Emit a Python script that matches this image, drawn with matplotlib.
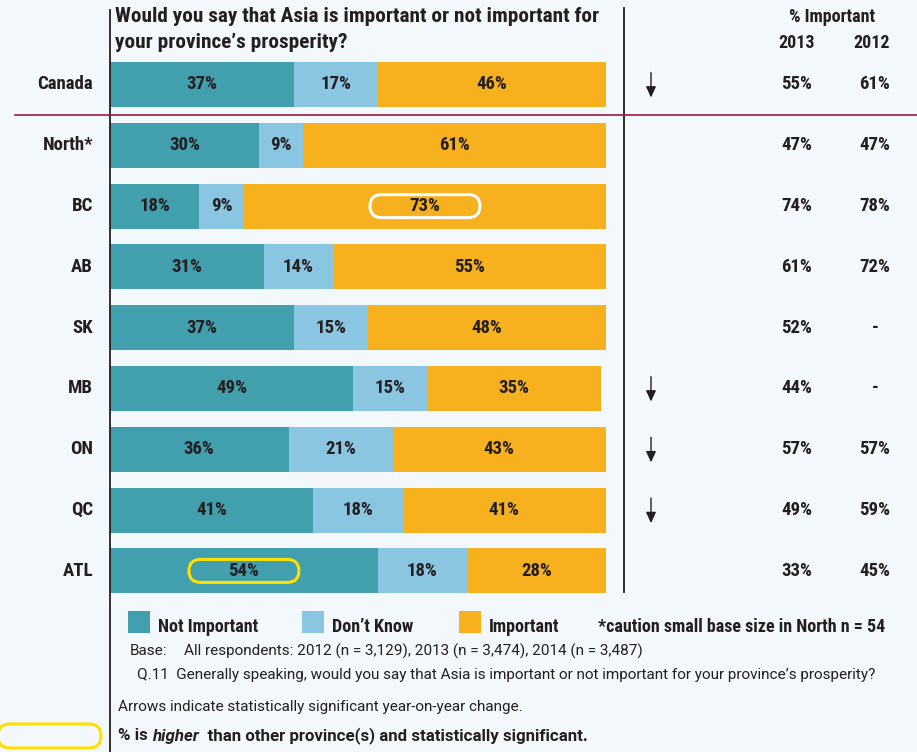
import matplotlib
matplotlib.use("Agg")
import matplotlib.pyplot as plt
from matplotlib.patches import FancyBboxPatch, Rectangle
from matplotlib.lines import Line2D
from matplotlib.transforms import blended_transform_factory, IdentityTransform

# ---- data ----
regions = ["Canada", "North*", "BC", "AB", "SK", "MB", "ON", "QC", "ATL"]
not_important = [37, 30, 18, 31, 37, 49, 36, 41, 54]
dont_know = [17, 9, 9, 14, 15, 15, 21, 18, 18]
important = [46, 61, 73, 55, 48, 35, 43, 41, 28]
imp_2013 = ["55%", "47%", "74%", "61%", "52%", "44%", "57%", "49%", "33%"]
imp_2012 = ["61%", "47%", "78%", "72%", "-", "-", "57%", "59%", "45%"]
sig_change = [True, False, False, False, False, True, True, True, False]
# (region, segment) pairs significantly higher than other provinces
highlight = [("BC", "important"), ("ATL", "not_important")]

series_names = ["Not Important", "Don\u2019t Know", "Important"]
colors = ["#429FAE", "#8AC6E2", "#F7B11E"]
BG = "#F3F8FC"
INK = "#231F20"

plt.rcParams["font.family"] = ["Roboto Condensed", "DejaVu Sans"]
NOTE_FONT = ["Roboto", "DejaVu Sans"]

W, H = 917, 752
fig = plt.figure(figsize=(W / 100, H / 100), dpi=100, facecolor=BG)


def fx(x):
    return x / W


def fy(y):
    return 1 - y / H


# bar axes: x 0..100 %, one row per region
row_pitch = 60.8
top_px = 84.5 - row_pitch / 2
bot_px = top_px + row_pitch * len(regions)
ax = fig.add_axes([fx(110), fy(bot_px), fx(496), (bot_px - top_px) / H])
ax.set_xlim(0, 100)
ax.set_ylim(len(regions) - 0.5, -0.5)
ax.axis("off")
ax.patch.set_alpha(0)

ypos = list(range(len(regions)))
bh = 45 / row_pitch
left = [0] * len(regions)
segments = {}
for name, vals, col, key in zip(series_names, [not_important, dont_know, important], colors,
                                ["not_important", "dont_know", "important"]):
    ax.barh(ypos, vals, left=left, height=bh, color=col, edgecolor="none")
    centers = []
    for i, v in enumerate(vals):
        c = left[i] + v / 2
        centers.append(c)
        ax.text(c, i, f"{v}%", ha="center", va="center", fontsize=13.5,
                fontweight="bold", color=INK)
    segments[key] = centers
    left = [l + v for l, v in zip(left, vals)]

# pills around significantly higher values
fig.canvas.draw()
for reg, key in highlight:
    i = regions.index(reg)
    cx, cy = ax.transData.transform((segments[key][i], i))
    ec = "white" if key == "important" else "#FFE000"
    pill = FancyBboxPatch((cx - 55, cy - 11.5), 110, 23,
                          boxstyle="round,pad=0,rounding_size=11.5",
                          transform=IdentityTransform(), facecolor="none",
                          edgecolor=ec, linewidth=2.2, clip_on=False)
    fig.add_artist(pill)

# row labels, arrows and % important columns
tr = blended_transform_factory(fig.transFigure, ax.transData)
for i, reg in enumerate(regions):
    ax.text(fx(93), i, reg, transform=tr, ha="right", va="center", fontsize=13.5,
            fontweight="bold", color=INK)
    ax.text(fx(797), i, imp_2013[i], transform=tr, ha="center", va="center",
            fontsize=13.5, fontweight="bold", color=INK)
    ax.text(fx(875), i, imp_2012[i], transform=tr, ha="center", va="center",
            fontsize=13.5, fontweight="bold", color=INK)
    if sig_change[i]:
        ax.annotate("", xy=(fx(651), i + 13 / row_pitch), xycoords=tr,
                    xytext=(fx(651), i - 12 / row_pitch), textcoords=tr,
                    arrowprops=dict(arrowstyle="-|>,head_length=0.65,head_width=0.3",
                                    color=INK, lw=1.0, shrinkA=0, shrinkB=0))

# frame lines
fig.add_artist(Line2D([fx(110), fx(110)], [fy(10), fy(752)], color=INK, lw=1.3))
fig.add_artist(Line2D([fx(624), fx(624)], [fy(8), fy(592)], color=INK, lw=1.3))
fig.add_artist(Line2D([fx(15), fx(917)], [fy(115), fy(115)], color="#9B1B3B", lw=1.2))

# headers
fig.text(fx(115), fy(17), "Would you say that Asia is important or not important for",
         ha="left", va="center", fontsize=15.3, fontweight="bold", color=INK)
fig.text(fx(115), fy(43), "your province\u2019s prosperity?",
         ha="left", va="center", fontsize=15.3, fontweight="bold", color=INK)
fig.text(fx(832), fy(17), "% Important", ha="center", va="center", fontsize=13,
         fontweight="bold", color=INK)
fig.text(fx(797), fy(43), "2013", ha="center", va="center", fontsize=13,
         fontweight="bold", color=INK)
fig.text(fx(872), fy(43), "2012", ha="center", va="center", fontsize=13,
         fontweight="bold", color=INK)

# legend
for x0, name, col in zip([128, 302, 459], series_names, colors):
    fig.add_artist(Rectangle((fx(x0), fy(633)), fx(22), 22 / H, transform=fig.transFigure,
                             facecolor=col, edgecolor="none"))
    fig.text(fx(x0 + 30), fy(627), name, ha="left", va="center", fontsize=13,
             fontweight="bold", color=INK)
fig.text(fx(598), fy(627), "*caution small base size in North n = 54", ha="left",
         va="center", fontsize=13, fontweight="bold", color=INK)

# footnotes
fig.text(fx(130), fy(651), "Base:", ha="left", va="center", fontsize=11, color=INK,
         family=NOTE_FONT)
fig.text(fx(184), fy(651),
         "All respondents: 2012 (n = 3,129), 2013 (n = 3,474), 2014 (n = 3,487)",
         ha="left", va="center", fontsize=11, color=INK, family=NOTE_FONT)
fig.text(fx(137), fy(675),
         "Q.11  Generally speaking, would you say that Asia is important or not important "
         "for your province\u2019s prosperity?",
         ha="left", va="center", fontsize=11, color=INK, family=NOTE_FONT)
fig.text(fx(118), fy(707), "Arrows indicate statistically significant year-on-year change.",
         ha="left", va="center", fontsize=11, color=INK, family=NOTE_FONT)
t1 = fig.text(fx(118), fy(736), "% is ", ha="left", va="center", fontsize=12.2,
              fontweight="bold", color=INK, family=NOTE_FONT)
fig.canvas.draw()
bb = t1.get_window_extent()
t2 = fig.text(bb.x1 / W, fy(736), "higher", ha="left", va="center", fontsize=12.2,
              fontweight="bold", fontstyle="italic", color=INK, family=NOTE_FONT)
fig.canvas.draw()
bb = t2.get_window_extent()
fig.text(bb.x1 / W, fy(736), "  than other province(s) and statistically significant.",
         ha="left", va="center", fontsize=12.2, fontweight="bold", color=INK,
         family=NOTE_FONT)
fig.add_artist(FancyBboxPatch((-2, H - 748), 103, 24,
                              boxstyle="round,pad=0,rounding_size=12",
                              transform=IdentityTransform(), facecolor="none",
                              edgecolor="#FFE000", linewidth=2.2, clip_on=False))

fig.savefig("out.png", dpi=100, facecolor=BG)
